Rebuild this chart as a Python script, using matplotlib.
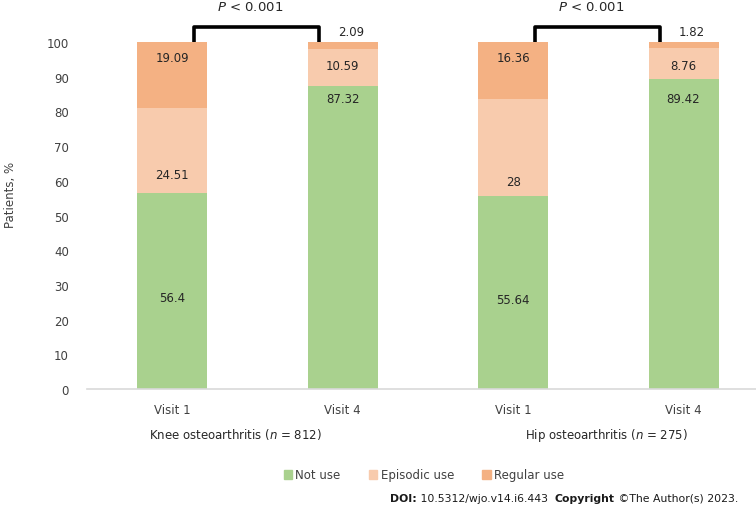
import matplotlib.pyplot as plt
from matplotlib.patches import Patch
from matplotlib.transforms import blended_transform_factory

# Data
visits = ["Visit 1", "Visit 4", "Visit 1", "Visit 4"]
groups = ["Knee osteoarthritis", "Hip osteoarthritis"]
group_n = [812, 275]
not_use = [56.4, 87.32, 55.64, 89.42]
episodic = [24.51, 10.59, 28, 8.76]
regular = [19.09, 2.09, 16.36, 1.82]
p_text = "< 0.001"

# where the original puts each value label (y, in %)
label_y_not = [26.5, 83.6, 25.9, 83.6]
label_y_epi = [61.7, 93.1, 59.7, 93.1]
label_y_reg = [95.4, 103.0, 95.4, 103.0]

c_not = "#A9D18E"
c_epi = "#F8CBAD"
c_reg = "#F4B183"
txt = "#262626"

plt.rcParams["font.family"] = ["DejaVu Sans"]

fig = plt.figure(figsize=(7.56, 5.06), dpi=100)
ax = fig.add_axes([87 / 756, 1 - 390 / 506, (756 - 87) / 756, 390 / 506])

x = list(range(len(visits)))
w = 0.41
ax.bar(x, not_use, w, color=c_not, label="Not use")
bottom2 = [a for a in not_use]
ax.bar(x, episodic, w, bottom=bottom2, color=c_epi, label="Episodic use")
bottom3 = [a + b for a, b in zip(not_use, episodic)]
ax.bar(x, regular, w, bottom=bottom3, color=c_reg, label="Regular use")

for i in x:
    ax.text(i, label_y_not[i], f"{not_use[i]:g}", ha="center", va="center", fontsize=8.5, color=txt)
    ax.text(i, label_y_epi[i], f"{episodic[i]:g}", ha="center", va="center", fontsize=8.5, color=txt)
    dx = 0.05 if regular[i] < 5 else 0
    ax.text(i + dx, label_y_reg[i], f"{regular[i]:g}", ha="center", va="center", fontsize=8.5,
            color=txt, clip_on=False)

# significance brackets
for g in range(2):
    x0 = 2 * g + 0.13
    x1 = 2 * g + 0.862
    ax.plot([x0, x0, x1, x1], [100, 104.3, 104.3, 100], color="black", lw=2.6,
            solid_joinstyle="round", solid_capstyle="butt", clip_on=False)
    ax.text(2 * g + 0.46, 110.2, "$P$ " + p_text, ha="center", va="center", fontsize=9.5,
            color=txt, clip_on=False)

ax.set_xlim(-0.5, 3.425)
ax.set_ylim(0, 390 / 3.47)
ax.set_yticks(range(0, 101, 10))
ax.set_xticks(x)
ax.set_xticklabels(visits)
ax.tick_params(axis="both", length=0, labelsize=8.5, colors="#404040")
ax.tick_params(axis="y", pad=13)
ax.tick_params(axis="x", pad=10)
for s in ["top", "right", "left"]:
    ax.spines[s].set_visible(False)
ax.spines["bottom"].set_color("#D9D9D9")
ax.spines["bottom"].set_linewidth(1.2)

ax.set_ylabel("Patients, %", fontsize=8.5, color="#404040")
ax.yaxis.set_label_coords(-0.105, 0.5)

# group captions
trans = blended_transform_factory(ax.transData, fig.transFigure)
for gx, name, n in zip([0.37, 2.55], groups, group_n):
    ax.text(gx, 1 - 435 / 506, f"{name} ($n$ = {n})", transform=trans, ha="center", va="center",
            fontsize=8.5, color="#262626")

handles = [Patch(color=c_not), Patch(color=c_epi), Patch(color=c_reg)]
fig.legend(handles, ["Not use", "Episodic use", "Regular use"], loc="center",
           bbox_to_anchor=(424 / 756, 1 - 476 / 506), ncol=3, frameon=False, fontsize=8.5,
           handlelength=0.7, handleheight=0.7, handletextpad=0.3, columnspacing=2.4,
           labelcolor="#404040")

# footer with mixed weights
pieces = [("DOI:", "bold"), (" 10.5312/wjo.v14.i6.443  ", "normal"),
          ("Copyright", "bold"), (" \u00a9The Author(s) 2023.", "normal")]
renderer = fig.canvas.get_renderer()
xpos = 390 / 756
for s, wt in pieces:
    t = fig.text(xpos, 1 - 499 / 506, s, fontsize=7.8, fontweight=wt, color="#1a1a1a",
                 ha="left", va="center")
    bb = t.get_window_extent(renderer=renderer)
    xpos = bb.x1 / fig.bbox.width

fig.savefig("out.png", dpi=100)
